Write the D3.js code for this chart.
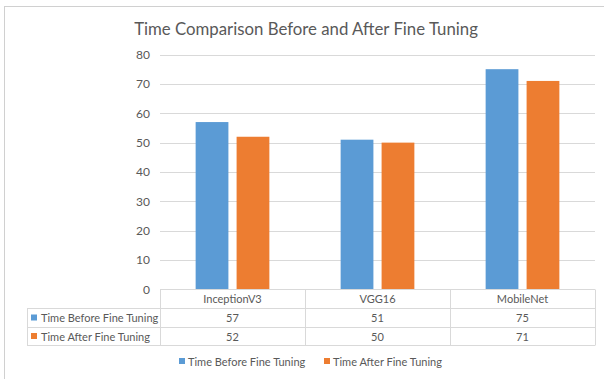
<!DOCTYPE html>
<html><head><meta charset="utf-8">
<script src="https://cdn.jsdelivr.net/npm/d3@7/dist/d3.min.js"></script>
<style>
body{margin:0;background:#fff;}
svg{display:block;font-family:Lato,"Open Sans",sans-serif;}
</style></head><body>
<svg id="c" width="604" height="379"></svg>
<script>
const categories = ["InceptionV3","VGG16","MobileNet"];
const seriesNames = ["Time Before Fine Tuning","Time After Fine Tuning"];
const before = [57,51,75];
const after = [52,50,71];
const yTicks = [0,10,20,30,40,50,60,70,80];
const colors = ["#5B9BD5","#ED7D31"];
const series = [before, after];

const svg = d3.select("#c");
const textColor = "#595959";
const lineColor = "#D9D9D9";

// outer frame (top and left edges)
svg.append("line").attr("x1",4.5).attr("x2",4.5).attr("y1",6).attr("y2",379).attr("stroke","#D0D0D0");
svg.append("line").attr("x1",4).attr("x2",604).attr("y1",6.5).attr("y2",6.5).attr("stroke","#D0D0D0");

svg.append("text").attr("x",306).attr("y",35).attr("text-anchor","middle")
  .attr("font-size",16.8).attr("fill",textColor).text("Time Comparison Before and After Fine Tuning");

const x = d3.scaleBand().domain(categories).range([160,595]);
const y = d3.scaleLinear().domain([0,80]).range([289.5,54.5]);

// gridlines
svg.append("g").selectAll("line").data(yTicks.slice(1)).join("line")
  .attr("x1",160).attr("x2",595).attr("y1",d=>Math.round(y(d))+0.5).attr("y2",d=>Math.round(y(d))+0.5)
  .attr("stroke",lineColor);

// y axis labels
const yAxis = d3.axisLeft(y).tickValues(yTicks).tickSize(0).tickPadding(10);
const ga = svg.append("g").attr("transform","translate(160,0)").call(yAxis);
ga.select(".domain").remove();
ga.selectAll("text").attr("font-size",12).attr("fill",textColor).attr("font-family","Lato,'Open Sans',sans-serif");

// bars
const inner = d3.scaleBand().domain([0,1]).range([0,x.bandwidth()]).paddingInner(0.2).paddingOuter(0.87);
const g = svg.append("g");
series.forEach((vals,si)=>{
  g.selectAll(null).data(vals).join("rect")
    .attr("x",(d,i)=>x(categories[i])+inner(si))
    .attr("width",inner.bandwidth())
    .attr("y",d=>y(d))
    .attr("height",d=>y(0)-y(d))
    .attr("fill",colors[si]);
});

// data table
const rowTop = [289.5,308.5,327.5,345.5];
const tl = svg.append("g").attr("stroke",lineColor).attr("fill","none");
tl.append("line").attr("x1",160).attr("x2",595).attr("y1",rowTop[0]).attr("y2",rowTop[0]);
[1,2,3].forEach(k=>tl.append("line").attr("x1",27).attr("x2",595).attr("y1",rowTop[k]).attr("y2",rowTop[k]));
[160,305,450,595].forEach(v=>tl.append("line").attr("x1",v+0.5).attr("x2",v+0.5).attr("y1",rowTop[0]).attr("y2",rowTop[3]));
tl.append("line").attr("x1",27.5).attr("x2",27.5).attr("y1",rowTop[1]).attr("y2",rowTop[3]);

svg.append("g").selectAll("text").data(categories).join("text")
  .attr("x",d=>x(d)+x.bandwidth()/2).attr("y",303).attr("text-anchor","middle")
  .attr("font-size",11).attr("fill",textColor).text(d=>d);

series.forEach((vals,si)=>{
  const yy = (rowTop[si+1]+rowTop[si+2])/2;
  svg.append("rect").attr("x",31).attr("y",yy-3.5).attr("width",6).attr("height",6).attr("fill",colors[si]);
  svg.append("text").attr("x",41).attr("y",yy+4).attr("font-size",11).attr("fill",textColor).text(seriesNames[si]);
  svg.append("g").selectAll("text").data(vals).join("text")
    .attr("x",(d,i)=>x(categories[i])+x.bandwidth()/2).attr("y",yy+4).attr("text-anchor","middle")
    .attr("font-size",11).attr("fill",textColor).text(d=>d);
});

// bottom legend
const legX = [179,324];
seriesNames.forEach((n,si)=>{
  svg.append("rect").attr("x",legX[si]).attr("y",358).attr("width",6).attr("height",6).attr("fill",colors[si]);
  svg.append("text").attr("x",legX[si]+9).attr("y",365.5).attr("font-size",11).attr("fill",textColor).text(n);
});
</script>
</body></html>
